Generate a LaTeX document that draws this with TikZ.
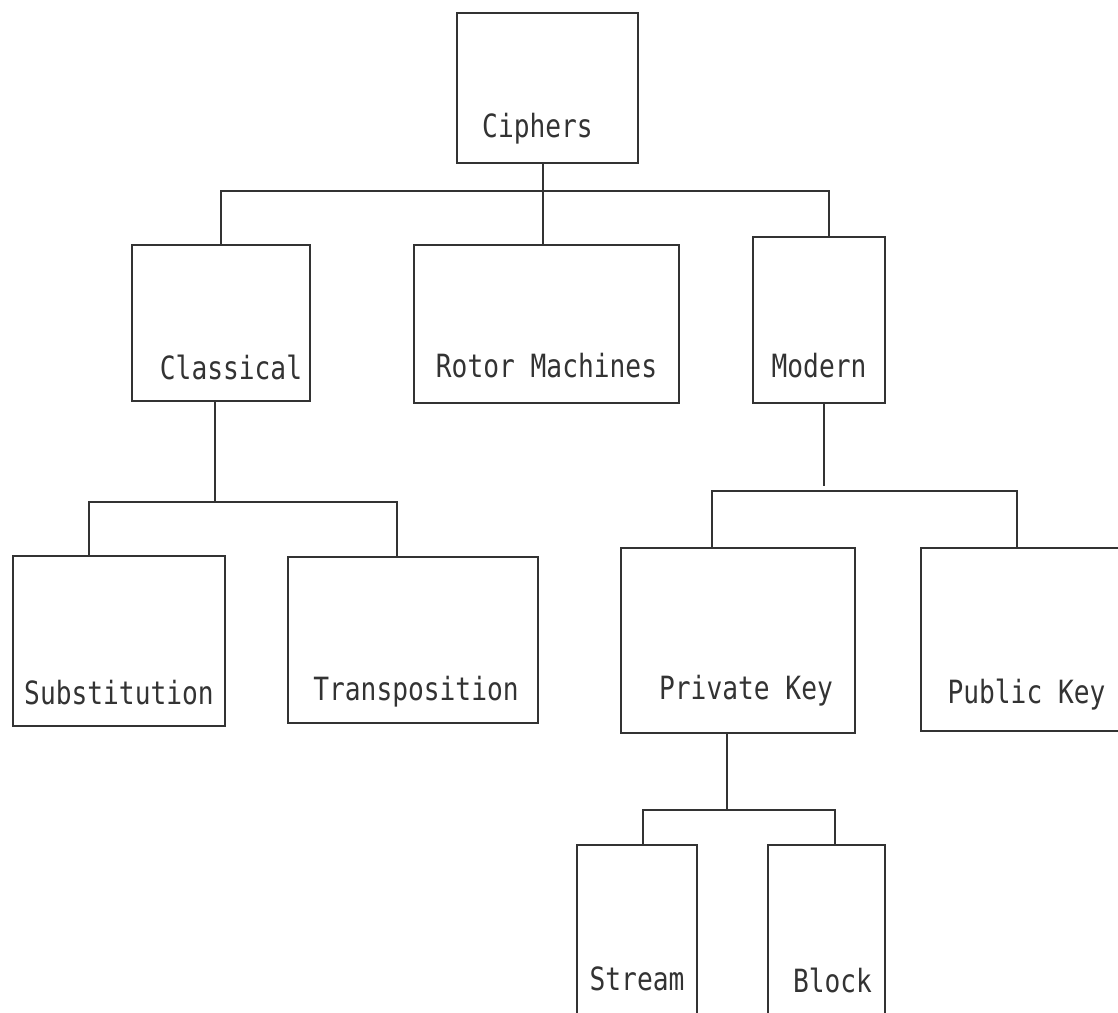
\documentclass[tikz,border=0pt]{standalone}
\usepackage{fontspec}
\newfontfamily\boxfont[FakeStretch=0.82]{DejaVu Sans Mono}
\definecolor{linegray}{RGB}{51,51,51}

\begin{document}
\begin{tikzpicture}[x=1pt, y=-1pt,
    cbox/.style n args={3}{draw=linegray, line width=1.3pt, inner sep=0pt, anchor=base,
      minimum width=#1, text height=#2, text depth=#3,
      font=\boxfont\fontsize{32}{36}\selectfont, text=linegray},
    branch/.style={draw=linegray, line width=1.3pt}]
    % Frame
    \useasboundingbox (0,0) rectangle (1118,1012);
    \clip (0,0) rectangle (1118,1012);

    % Boxes
    \node [cbox={181pt}{124pt}{26pt}] (ciphers) at (547.5,137) {Ciphers\hspace*{20pt}};
    \node [cbox={178pt}{134pt}{22pt}] (classical) at (221,379) {\hspace*{20pt}Classical};
    \node [cbox={265pt}{132pt}{26pt}] (rotor) at (546.5,377) {Rotor Machines};
    \node [cbox={132pt}{140pt}{26pt}] (modern) at (819,377) {Modern};
    \node [cbox={212pt}{148pt}{22pt}] (substitution) at (119,704) {Substitution};
    \node [cbox={250pt}{143pt}{23pt}] (transposition) at (413,700) {\hspace*{6pt}Transposition};
    \node [cbox={234pt}{151pt}{34pt}] (private) at (738,699) {\hspace*{16pt}Private Key};
    \node [cbox={211pt}{155pt}{28pt}] (public) at (1026.5,703) {Public Key};
    \node [cbox={120pt}{145pt}{50pt}] (stream) at (637,990) {Stream};
    \node [cbox={117pt}{147pt}{48pt}] (block) at (826.5,992) {\hspace*{12pt}Block};

    % Branch points
    \coordinate (bar1) at (543,191);
    \coordinate (bar2) at (215,502);
    \coordinate (bar2l) at (89,502);
    \coordinate (bar2r) at (397,502);
    \coordinate (bar3) at (824,486);
    \coordinate (bar3l) at (712,491);
    \coordinate (bar3r) at (1017,491);
    \coordinate (bar4) at (727,810);
    \coordinate (bar4l) at (643,810);
    \coordinate (bar4r) at (835,810);

    % Connectors
    \draw [branch] (ciphers.south -| bar1) -- (rotor.north -| bar1);
    \draw [branch] (classical.north) -- (classical.north |- bar1)
        -- ([xshift=10pt]modern.north |- bar1) -- ([xshift=10pt]modern.north);
    \draw [branch] (classical.south -| bar2) -- (bar2);
    \draw [branch] (substitution.north -| bar2l) -- (bar2l) -- (bar2r) -- (transposition.north -| bar2r);
    \draw [branch] (modern.south -| bar3) -- (bar3);
    \draw [branch] (private.north -| bar3l) -- (bar3l) -- (bar3r) -- (public.north -| bar3r);
    \draw [branch] (private.south -| bar4) -- (bar4);
    \draw [branch] (stream.north -| bar4l) -- (bar4l) -- (bar4r) -- (block.north -| bar4r);
\end{tikzpicture}
\end{document}
